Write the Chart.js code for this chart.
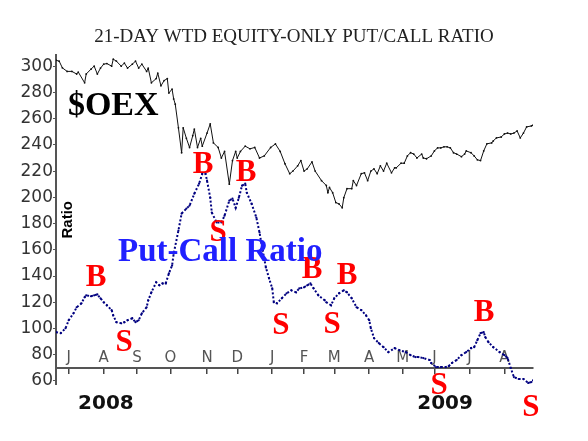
<!DOCTYPE html>
<html>
<head>
<meta charset="utf-8">
<script src="https://cdn.jsdelivr.net/npm/chart.js@4"></script>
<style>
  html, body { margin: 0; padding: 0; background: #fff; }
  #wrap { width: 588px; height: 441px; }
</style>
</head>
<body>
<div id="wrap"><canvas id="pcChart" width="588" height="441"></canvas></div>
<script>
// trading-day index (0 = late June 2008) and values
let oexDays = [0,2,4,7,10,13,14,18,19,22,24,26,28,30,32,35,36,38,41,43,45,48,50,52,54,57,58,60,63,64,
  66,68,70,71,73,74,75,77,79,80,82,84,86,87,89,91,92,95,97,99,102,104,106,109,111,113,114,116,119,122,
  125,128,131,135,138,141,144,147,149,152,154,156,158,161,163,167,170,171,172,174,176,178,180,181,183,186,187,189,192,194,
  196,198,200,202,204,206,208,211,213,214,217,219,221,223,225,227,230,231,233,236,238,240,242,244,246,248,250,252,255,257,
  258,261,263,265,267,269,271,274,275,277,280,282,284,286,288,290,292,294,296,299,300];
let oexValues = [304.5,303.8,298.7,296,296,294,295.5,287.3,294,297.7,300,294,298.5,301.5,302,300,305.3,303.8,300,302.3,
  298.5,301.5,303.8,298.5,301.5,296,298.5,287.3,290.5,294.7,285,289,290.5,279.5,282.5,275,271,253,234,253,
  245,238,247,252,238,245,239,249,256,241.5,238,230,235,210,228,235,230,235,239,237,
  238,230,231.6,238,240.7,235,225.6,218,220,224,228,220,221.7,227,220,212.7,209,203.5,207.5,203.5,
  196,195,192,199.7,206.6,206.6,212.7,209,218,218.7,212.7,220,221.7,218,224,220,226,218.7,222.5,222.5,
  226,226,231.6,234,233,230,233,230,229.4,231.6,235.4,237.7,237.7,238.5,238.5,237.7,234,233,231,233,
  235.4,234,231.6,228.6,228,235.4,240.8,241.5,243,245.3,246,248.3,249,248.3,249,250.6,245.3,249,253.7,254.4,255];

let pcDays = [0,3,6,8,11,13,16,18,19,22,24,26,28,30,32,35,36,38,41,43,45,48,50,52,54,57,58,60,63,65,
  67,69,71,73,74,77,79,82,84,87,90,92,94,95,97,98,101,104,106,109,111,113,115,117,119,120,123,126,128,130,
  132,134,136,137,139,142,145,148,151,153,156,158,160,162,165,169,170,173,175,178,181,183,186,189,192,195,197,198,200,203,
  206,209,213,216,220,223,226,228,231,235,236,239,242,245,247,249,252,255,258,261,263,265,267,269,270,272,275,279,282,284,
  286,288,291,294,297,299,300];
let pcValues = [97.2,96.5,100.2,106.3,111.6,116.2,119.2,123.8,125.3,124.6,125.3,126,123,120,117.7,114,110,104.8,104,104.8,
  106.3,107.8,104.8,106.3,111.6,116.2,121.5,127.6,135.2,133,134.4,134.4,142,148,157,174.7,187.6,191.4,193.7,202.8,
  210.4,218,218,212.7,199.7,188.4,180.8,180.8,186,197.5,199,192,199.7,208.9,210.4,203.5,195.2,184.6,173.2,159.5,
  146.6,138.2,130.6,120,119.2,123,126.8,129.1,127.6,130.6,131.4,132.9,134.4,130.6,125.3,121.5,120,117.7,123,126.8,
  129.1,127.6,123,116.2,114,110,106.3,100.2,92.7,88.9,85.8,82,85,83.5,82,79.7,78.2,78.2,77.5,76,
  73.7,70.6,70.6,70.6,71.4,73.7,76,79.7,82,85,85.8,91.1,96.5,97.2,93.4,89.6,85.8,82,79.7,77.5,
  69.9,63,61.5,61.5,58.5,59.2,60.5];

let monthDays = [8,30,51,72,95,114,136,156,175,197,218,238,260,282];
let monthLabels = ['J','A','S','O','N','D','J','F','M','A','M','J','J','A'];
let yTicks = [60,80,100,120,140,160,180,200,220,240,260,280,300];

let signalLabels = ['B','S','B','S','B','S','B','S','B','S','B','S'];
let signalDays = [25.2,42.8,92.5,101.9,119.5,141.5,161,173.6,183,240.9,269.2,298.7];
let signalValues = [140.2,90.5,226.4,174.5,220.3,103.5,146.3,104.3,141.7,57.7,113.4,40.9];

let yearLabels = ['2008','2009'];
let yearDays = [31.4,244.7];

let titleText = '21-DAY WTD EQUITY-ONLY PUT/CALL RATIO';

function toPoints(days, values) {
    return days.map((d, i) => ({ x: d, y: values[i] }));
}

let textMarks = {
    id: 'textMarks',
    afterDraw(chart) {
        let ctx = chart.ctx;
        let xs = chart.scales.x;
        let ys = chart.scales.y;
        ctx.save();

        // title, centred on the whole picture
        ctx.fillStyle = '#222';
        ctx.font = '19px "Liberation Serif"';
        ctx.textAlign = 'center';
        ctx.textBaseline = 'middle';
        ctx.fillText(titleText, chart.width / 2, 37);

        // B / S signals
        ctx.fillStyle = '#ff0000';
        ctx.font = 'bold 31px "Liberation Serif"';
        signalLabels.forEach((t, i) => {
            ctx.fillText(t, xs.getPixelForValue(signalDays[i]), ys.getPixelForValue(signalValues[i]) + 2);
        });

        // series names
        ctx.textAlign = 'left';
        ctx.textBaseline = 'alphabetic';
        ctx.fillStyle = '#000';
        ctx.font = 'bold 34px "Liberation Serif"';
        ctx.fillText('$OEX', xs.getPixelForValue(7.5), ys.getPixelForValue(263));
        ctx.fillStyle = '#2020ff';
        ctx.font = 'bold 33px "Liberation Serif"';
        ctx.fillText('Put-Call Ratio', xs.getPixelForValue(39), ys.getPixelForValue(151.6));

        // axis name, inside the plot
        ctx.fillStyle = '#000';
        ctx.font = 'bold 15px "Liberation Sans"';
        ctx.textAlign = 'center';
        ctx.textBaseline = 'middle';
        ctx.translate(xs.getPixelForValue(7.5), ys.getPixelForValue(182.9));
        ctx.rotate(-Math.PI / 2);
        ctx.fillText('Ratio', 0, 0);
        ctx.setTransform(1, 0, 0, 1, 0, 0);

        // years
        ctx.font = 'bold 20px "DejaVu Sans"';
        ctx.fillStyle = '#111';
        yearLabels.forEach((t, i) => {
            ctx.fillText(t, xs.getPixelForValue(yearDays[i]), ys.getPixelForValue(42.4));
        });
        ctx.restore();
    }
};

let ctx = document.getElementById('pcChart').getContext('2d');
let chart = new Chart(ctx, {
    type: 'line',
    data: {
        datasets: [{
            label: '$OEX',
            data: toPoints(oexDays, oexValues),
            borderColor: '#111',
            backgroundColor: '#111',
            borderWidth: 1,
            pointRadius: 0.9,
            pointBorderWidth: 0,
            tension: 0
        }, {
            label: 'Put-Call Ratio',
            data: toPoints(pcDays, pcValues),
            borderColor: '#000080',
            backgroundColor: '#000080',
            borderWidth: 2,
            borderDash: [2, 2],
            pointRadius: 1.1,
            pointBorderWidth: 0,
            tension: 0
        }]
    },
    options: {
        responsive: false,
        devicePixelRatio: 1,
        animation: false,
        layout: { padding: { top: 55, left: 0, right: 55, bottom: 57 } },
        plugins: {
            legend: { display: false },
            tooltip: { enabled: false },
            title: { display: false }
        },
        scales: {
            x: {
                type: 'linear',
                min: 0,
                max: 300,
                position: { y: 70 },
                afterBuildTicks: s => { s.ticks = monthDays.map(v => ({ value: v })); },
                ticks: {
                    autoSkip: false,
                    maxRotation: 0,
                    padding: -24,
                    color: '#555',
                    font: { family: 'DejaVu Sans', size: 15 },
                    callback: (v, i) => monthLabels[i]
                },
                grid: { drawOnChartArea: false, drawTicks: true, tickLength: 5, color: '#444', lineWidth: 1.5 },
                border: { display: true, color: '#555', width: 2 }
            },
            y: {
                min: 57.7,
                max: 308.5,
                afterBuildTicks: s => { s.ticks = yTicks.map(v => ({ value: v })); },
                afterFit: s => { s.width = 56; },
                ticks: {
                    padding: 0,
                    color: '#333',
                    font: { family: 'DejaVu Sans', size: 17 }
                },
                grid: { drawOnChartArea: false, drawTicks: true, tickLength: 3, color: '#555' },
                border: { display: true, color: '#555', width: 2 }
            }
        }
    },
    plugins: [textMarks]
});
</script>
</body>
</html>
